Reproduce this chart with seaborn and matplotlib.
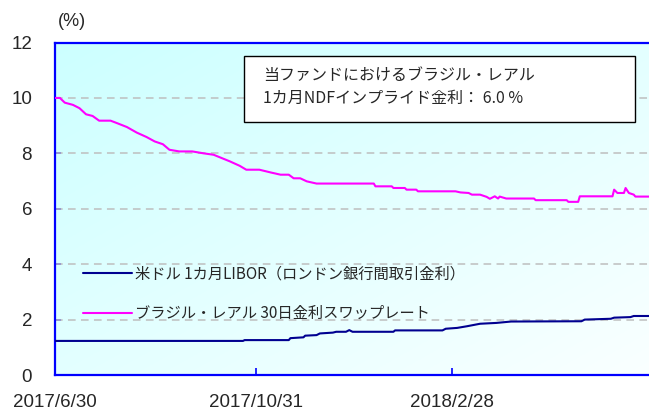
import numpy as np
import pandas as pd
import matplotlib
matplotlib.use("Agg")
import matplotlib.pyplot as plt
from matplotlib.patches import Rectangle
import seaborn as sns

# US dollar 1M LIBOR
libor_dates = ["2017-06-30", "2017-10-23", "2017-10-24", "2017-11-20", "2017-11-21",
               "2017-11-29", "2017-11-30", "2017-12-07", "2017-12-09", "2017-12-17",
               "2017-12-19", "2017-12-25", "2017-12-27", "2017-12-29", "2018-01-23",
               "2018-01-24", "2018-02-22", "2018-02-24", "2018-03-03", "2018-03-09",
               "2018-03-17", "2018-03-27", "2018-04-05", "2018-05-18", "2018-05-20",
               "2018-06-05", "2018-06-07", "2018-06-17", "2018-06-19", "2018-06-29"]
libor_vals = [1.23, 1.23, 1.26, 1.26, 1.33, 1.36, 1.42, 1.44, 1.50, 1.53,
              1.56, 1.56, 1.62, 1.56, 1.56, 1.61, 1.61, 1.67, 1.70, 1.76,
              1.85, 1.88, 1.93, 1.94, 2.00, 2.03, 2.07, 2.09, 2.13, 2.13]

# Brazil real 30-day swap rate
brl_dates = ["2017-06-30", "2017-07-03", "2017-07-06", "2017-07-11", "2017-07-15",
             "2017-07-19", "2017-07-23", "2017-07-27", "2017-08-03", "2017-08-07",
             "2017-08-13", "2017-08-19", "2017-08-25", "2017-08-30", "2017-09-04",
             "2017-09-08", "2017-09-14", "2017-09-22", "2017-09-29", "2017-10-05",
             "2017-10-10", "2017-10-15", "2017-10-21", "2017-10-25", "2017-11-02",
             "2017-11-09", "2017-11-15", "2017-11-20", "2017-11-23", "2017-11-27",
             "2017-12-01", "2017-12-07", "2018-01-11", "2018-01-12", "2018-01-22",
             "2018-01-23", "2018-01-30", "2018-01-31", "2018-02-06", "2018-02-07",
             "2018-03-02", "2018-03-05", "2018-03-10", "2018-03-12", "2018-03-17",
             "2018-03-21", "2018-03-23", "2018-03-26", "2018-03-28", "2018-03-29",
             "2018-04-02", "2018-04-19", "2018-04-20", "2018-05-09", "2018-05-10",
             "2018-05-16", "2018-05-17", "2018-06-06", "2018-06-07", "2018-06-09",
             "2018-06-13", "2018-06-14", "2018-06-16", "2018-06-19", "2018-06-20",
             "2018-06-29"]
brl_vals = [10.0, 10.0, 9.83, 9.75, 9.63, 9.41, 9.35, 9.18, 9.18, 9.09,
            8.95, 8.75, 8.59, 8.43, 8.33, 8.13, 8.07, 8.07, 8.0, 7.95,
            7.83, 7.71, 7.55, 7.41, 7.41, 7.31, 7.23, 7.23, 7.10, 7.10,
            6.99, 6.91, 6.91, 6.81, 6.81, 6.75, 6.75, 6.69, 6.69, 6.63,
            6.63, 6.59, 6.57, 6.51, 6.51, 6.43, 6.36, 6.45, 6.37, 6.44,
            6.37, 6.37, 6.31, 6.31, 6.25, 6.25, 6.45, 6.45, 6.69, 6.57,
            6.57, 6.75, 6.57, 6.51, 6.44, 6.44]

series_names = ["米ドル 1カ月LIBOR（ロンドン銀行間取引金利）", "ブラジル・レアル 30日金利スワップレート"]
series_colors = ["#000090", "#FF00FF"]
xtick_labels = ["2017/6/30", "2017/10/31", "2018/2/28"]
yticks = [0, 2, 4, 6, 8, 10, 12]
box_text = "当ファンドにおけるブラジル・レアル\n1カ月NDFインプライド金利： 6.0 %"

df = pd.concat([
    pd.DataFrame({"date": pd.to_datetime(libor_dates), "rate": libor_vals, "series": series_names[0]}),
    pd.DataFrame({"date": pd.to_datetime(brl_dates), "rate": brl_vals, "series": series_names[1]}),
])

sns.set_style("white")
plt.rcParams["font.family"] = ["Liberation Sans", "Noto Sans CJK JP"]
jp = ["Noto Sans CJK JP", "DejaVu Sans"]

fig = plt.figure(figsize=(6.49, 4.13), dpi=100)
ax = fig.add_axes([0.0847, 0.092, 0.917, 0.805])

# background gradient: cyan top-left -> white bottom-right
gx, gy = np.meshgrid(np.linspace(0, 1, 200), np.linspace(0, 1, 200))
t = np.clip((gx + gy) / 2, 0, 1)
c0 = np.array([0.80, 1.0, 1.0])
c1 = np.array([0.98, 1.0, 1.0])
img = c0[None, None, :] * (1 - t[..., None]) + c1[None, None, :] * t[..., None]
ax.imshow(img, extent=[0, 1, 0, 1], transform=ax.transAxes, aspect="auto", zorder=0, origin="upper")

sns.lineplot(data=df, x="date", y="rate", hue="series", palette=series_colors,
             hue_order=series_names, linewidth=1.5, ax=ax, zorder=3, legend=True)

ax.set_xlim(pd.Timestamp("2017-06-30"), pd.Timestamp("2018-06-29"))
ax.set_ylim(0, 12)
ax.set_yticks(yticks)
ax.set_xticks(pd.to_datetime(["2017-06-30", "2017-10-31", "2018-02-28"]))
ax.set_xticklabels(xtick_labels)
ax.set_xlabel("")
ax.set_ylabel("")

for v in yticks[1:-1]:
    ax.axhline(v, color="#BEBEBE", lw=1.1, ls=(0, (5, 3.5)), zorder=1)

for s in ["left", "bottom", "top"]:
    ax.spines[s].set_color("#0000FF")
    ax.spines[s].set_linewidth(1.6)
ax.spines["right"].set_visible(False)
ax.tick_params(axis="y", direction="in", length=4, width=1.2, color="#0000FF",
               labelsize=13.5, pad=16.5, left=True)
ax.tick_params(axis="x", direction="in", length=5, width=1.2, color="#0000FF",
               labelsize=13.5, pad=14, bottom=True)

fig.text(0.111, 0.949, "(%)", fontsize=13, ha="center", va="center")

# annotation box
ax.add_patch(Rectangle((0.318, 0.760), 0.657, 0.201, transform=ax.transAxes,
                       facecolor="white", edgecolor="black", lw=1.0, zorder=4))
ax.text(0.350, 0.866, box_text, transform=ax.transAxes, fontsize=11.5, family=jp,
        ha="left", va="center", linespacing=1.5, zorder=5)

leg = ax.legend(loc="upper left", bbox_to_anchor=(0.047, 0.330), frameon=False,
                handlelength=3.2, handletextpad=0.2, labelspacing=1.5,
                borderpad=0, borderaxespad=0, prop={"family": jp, "size": 11})
for h in leg.get_lines():
    h.set_linewidth(1.5)

fig.savefig("out.png", dpi=100)
